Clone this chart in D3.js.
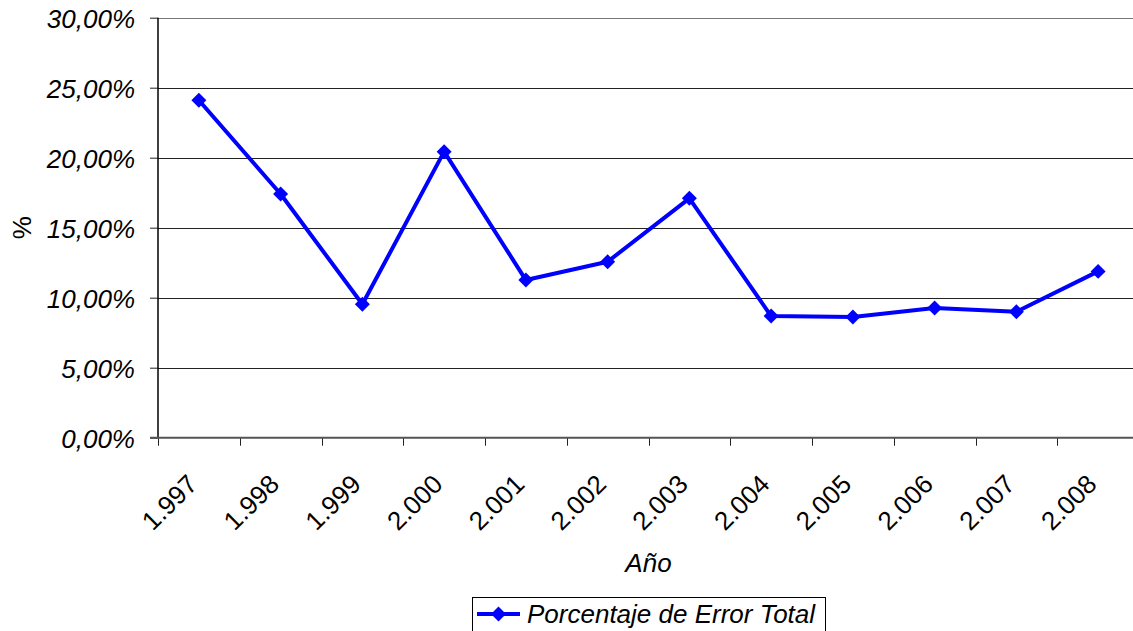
<!DOCTYPE html>
<html>
<head>
<meta charset="utf-8">
<script src="https://cdn.jsdelivr.net/npm/d3@7"></script>
<style>
  html, body { margin: 0; padding: 0; background: #fff; }
  svg { display: block; font-family: "Liberation Sans", Arial, sans-serif; }
</style>
</head>
<body>
<svg id="chart" width="1133" height="631"></svg>
<script>
// Annual total error percentage
const years = ["1.997", "1.998", "1.999", "2.000", "2.001", "2.002", "2.003", "2.004", "2.005", "2.006", "2.007", "2.008"];
const errorTotal = [0.2410, 0.1741, 0.0953, 0.2043, 0.1126, 0.1257, 0.1710, 0.0869, 0.0862, 0.0926, 0.0900, 0.1188];
const yTicks = [0, 0.05, 0.10, 0.15, 0.20, 0.25, 0.30];
const seriesName = "Porcentaje de Error Total";
const xTitle = "Año";
const yTitle = "%";

(function () {
  const svg = d3.select("#chart");
  const plotL = 158, plotR = 1139, plotT = 17.7, plotB = 437.7;
  const blue = "#0000ff";
  const fs = "26px";

  const x = d3.scaleBand().domain(years).range([plotL, plotR]).padding(0);
  const y = d3.scaleLinear().domain([0, 0.30]).range([plotB, plotT]);

  const es = d3.formatLocale({ decimal: ",", thousands: ".", grouping: [3], currency: ["", "€"] });
  const pct = es.format(".2%");

  // horizontal gridlines
  svg.append("g").selectAll("line")
    .data(yTicks.filter(d => d > 0))
    .join("line")
    .attr("x1", plotL).attr("x2", plotR)
    .attr("y1", d => Math.round(y(d)) + 0.5).attr("y2", d => Math.round(y(d)) + 0.5)
    .attr("stroke", d => d === 0.30 ? "#777" : "#222")
    .attr("stroke-width", 1);

  // y axis ticks and labels
  const yAxis = d3.axisLeft(y).tickValues(yTicks).tickSize(8).tickFormat(pct);
  const gy = svg.append("g").attr("transform", `translate(${plotL},0)`).call(yAxis);
  gy.select(".domain").remove();
  gy.selectAll(".tick line").attr("stroke", "#222").attr("stroke-width", 1);
  gy.selectAll(".tick text")
    .attr("x", -23)
    .attr("dy", "0.36em")
    .attr("fill", "#000")
    .style("font-size", fs)
    .style("font-style", "italic")
    .style("font-family", "'Liberation Sans', Arial, sans-serif");

  // left axis line
  svg.append("line")
    .attr("x1", plotL).attr("x2", plotL)
    .attr("y1", plotT).attr("y2", plotB)
    .attr("stroke", "#000").attr("stroke-width", 1.5);

  // x axis: ticks at category boundaries
  const bounds = years.map(d => x(d)).concat([x(years[years.length - 1]) + x.bandwidth()]);
  svg.append("g").selectAll("line")
    .data(bounds)
    .join("line")
    .attr("x1", d => Math.round(d) + 0.5).attr("x2", d => Math.round(d) + 0.5)
    .attr("y1", plotB).attr("y2", plotB + 8)
    .attr("stroke", "#222").attr("stroke-width", 1);

  svg.append("line")
    .attr("x1", plotL - 8).attr("x2", plotR)
    .attr("y1", plotB).attr("y2", plotB)
    .attr("stroke", "#555").attr("stroke-width", 2);

  // rotated category labels
  svg.append("g").selectAll("text")
    .data(years)
    .join("text")
    .attr("transform", d => `translate(${x(d) + x.bandwidth() / 2},${plotB + 48}) rotate(-45)`)
    .attr("text-anchor", "end")
    .attr("fill", "#000")
    .style("font-size", fs)
    .text(d => d);

  // series line
  const line = d3.line()
    .x((d, i) => x(years[i]) + x.bandwidth() / 2)
    .y(d => y(d));

  svg.append("path")
    .datum(errorTotal)
    .attr("d", line)
    .attr("fill", "none")
    .attr("stroke", blue)
    .attr("stroke-width", 4)
    .attr("stroke-linejoin", "round");

  const diamond = d3.symbol().type(d3.symbolSquare).size(112);
  svg.append("g").selectAll("path")
    .data(errorTotal)
    .join("path")
    .attr("d", diamond)
    .attr("transform", (d, i) => `translate(${x(years[i]) + x.bandwidth() / 2},${y(d)}) rotate(45)`)
    .attr("fill", blue);

  // axis titles
  svg.append("text")
    .attr("x", (plotL + plotR) / 2)
    .attr("y", 572)
    .attr("text-anchor", "middle")
    .style("font-size", fs)
    .style("font-style", "italic")
    .text(xTitle);

  svg.append("text")
    .attr("transform", `translate(31,${(plotT + plotB) / 2}) rotate(-90)`)
    .attr("text-anchor", "middle")
    .style("font-size", fs)
    .text(yTitle);

  // legend
  const lg = svg.append("g");
  lg.append("rect")
    .attr("x", 472.5).attr("y", 597.5)
    .attr("width", 353).attr("height", 50)
    .attr("fill", "#fff").attr("stroke", "#000").attr("stroke-width", 1);
  lg.append("line")
    .attr("x1", 477).attr("x2", 520)
    .attr("y1", 614).attr("y2", 614)
    .attr("stroke", blue).attr("stroke-width", 4);
  lg.append("path")
    .attr("d", diamond)
    .attr("transform", "translate(498.5,614) rotate(45)")
    .attr("fill", blue);
  lg.append("text")
    .attr("x", 527).attr("y", 623)
    .style("font-size", fs)
    .style("font-style", "italic")
    .text(seriesName);
})();
</script>
</body>
</html>
